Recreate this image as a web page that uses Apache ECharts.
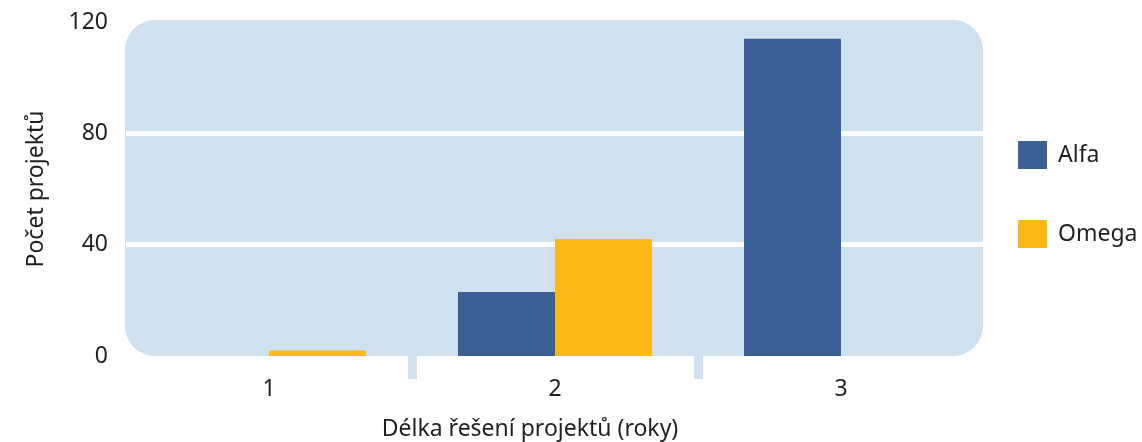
<!DOCTYPE html>
<html><head><meta charset="utf-8">
<script src="https://cdn.jsdelivr.net/npm/echarts@6/dist/echarts.min.js"></script>
<style>html,body{margin:0;padding:0;background:#fff}#c{width:1142px;height:442px}</style>
</head><body><div id="c"></div>
<script>
const categories = ['1', '2', '3'];
const alfa = [0, 23, 114];
const omega = [2, 42, 0];
const yTicks = [0, 40, 80, 120];
const boundaryTicks = [1.5, 2.5];

const FONT = '"Noto Sans", sans-serif';
const TXT = '#231f20';
const BG = '#cfe0f1';
const FS = 23;
const chart = echarts.init(document.getElementById('c'), null, {renderer: 'canvas'});
chart.setOption({
  animation: false,
  textStyle: {fontFamily: FONT},
  graphic: [{
    type: 'rect', left: 125, top: 20, z: -10, silent: true,
    shape: {width: 858, height: 336, r: 30},
    style: {fill: BG}
  }],
  grid: {left: 126, right: 158, top: 22, bottom: 86, outerBoundsMode: 'none', containLabel: false},
  legend: {
    orient: 'vertical', left: 1013, top: 136,
    itemWidth: 29, itemHeight: 28, itemGap: 51,
    icon: 'rect',
    textStyle: {fontSize: FS, color: TXT, fontFamily: FONT, padding: [0, 0, 0, 6]},
    data: ['Alfa', 'Omega']
  },
  xAxis: [{
    type: 'category', data: categories,
    axisLine: {show: false}, axisTick: {show: false},
    axisLabel: {fontSize: FS, color: TXT, margin: 22, fontFamily: FONT},
    name: 'Délka řešení projektů (roky)', nameLocation: 'middle', nameGap: 62,
    nameTextStyle: {fontSize: FS, color: TXT, fontFamily: FONT, padding: [0, 50, 0, 0]}
  }, {
    type: 'value', min: 0.5, max: 3.5, position: 'bottom', offset: 0,
    axisLine: {show: false}, axisLabel: {show: false}, splitLine: {show: false},
    axisTick: {show: true, customValues: boundaryTicks, length: 23, lineStyle: {color: BG, width: 9}}
  }],
  yAxis: {
    type: 'value', min: yTicks[0], max: yTicks[yTicks.length - 1], interval: 40,
    axisLine: {show: false}, axisTick: {show: false},
    axisLabel: {fontSize: FS, color: TXT, margin: 18, fontFamily: FONT},
    splitLine: {show: true, showMinLine: false, showMaxLine: false, lineStyle: {color: '#ffffff', width: 5}},
    name: 'Počet projektů', nameLocation: 'middle', nameGap: 78,
    nameTextStyle: {fontSize: FS, color: TXT, fontFamily: FONT}
  },
  series: [
    {name: 'Alfa', type: 'bar', data: alfa, barWidth: 97, barGap: '0%', itemStyle: {color: '#3a6095'}},
    {name: 'Omega', type: 'bar', data: omega, barWidth: 97, barGap: '0%', itemStyle: {color: '#fcb817'}}
  ]
});
</script></body></html>
